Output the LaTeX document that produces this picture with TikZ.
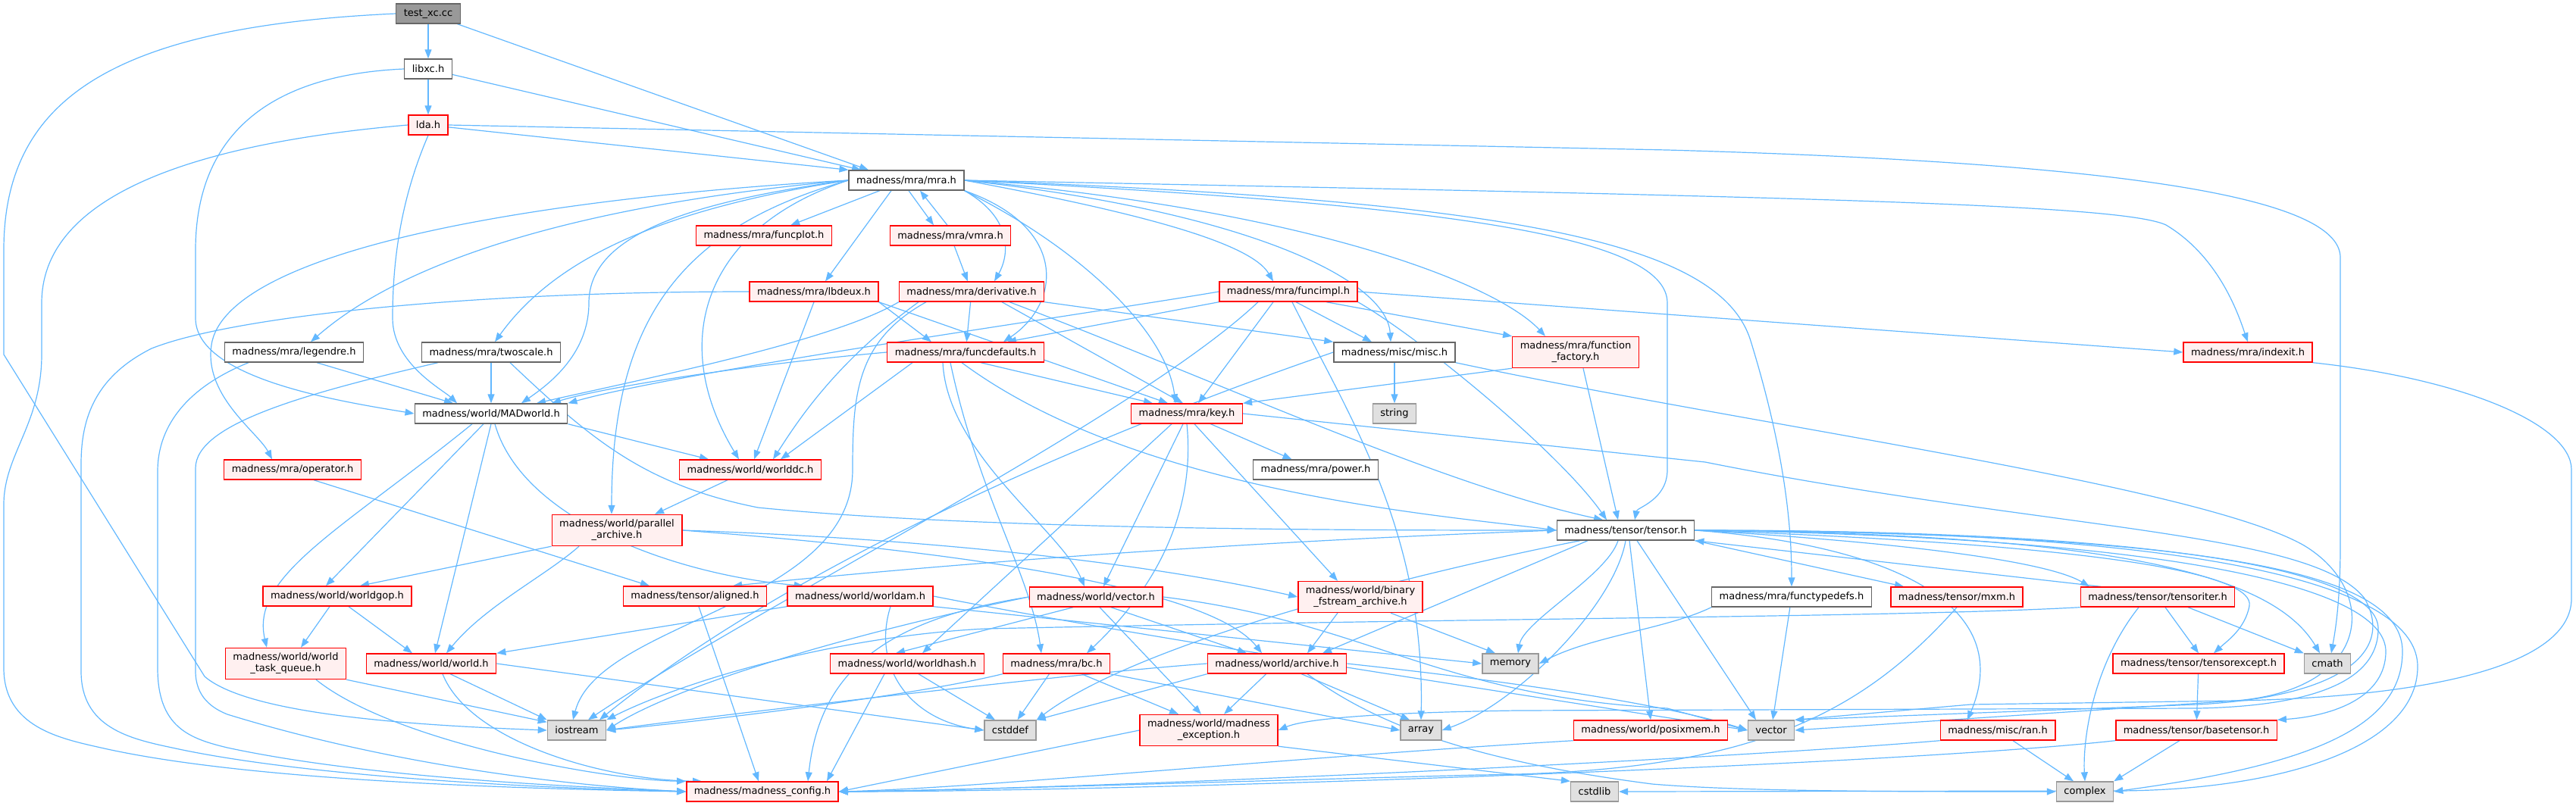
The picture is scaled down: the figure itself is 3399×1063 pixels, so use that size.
\documentclass[tikz,border=0pt]{standalone}
\usepackage{fontspec}
\setmainfont{DejaVu Sans}
\usetikzlibrary{arrows.meta}
\definecolor{ec}{RGB}{99,184,255}
\definecolor{wb}{RGB}{102,102,102}
\definecolor{rb}{RGB}{255,0,0}
\definecolor{rf}{RGB}{255,240,240}
\definecolor{gf}{RGB}{224,224,224}
\definecolor{gb}{RGB}{153,153,153}
\definecolor{tf}{RGB}{153,153,153}
\pgfdeclarelayer{bg}
\pgfsetlayers{bg,main}
\newcommand{\fs}{\fontsize{13}{15}\selectfont}
\tikzset{
  nd/.style={draw, line width=1.4pt, inner xsep=10pt, inner ysep=0pt, minimum height=26pt, font=\fs, align=center, text=black},
  wn/.style={nd, fill=white, draw=wb},
  rn/.style={nd, fill=rf, draw=rb},
  gn/.style={nd, fill=gf, draw=gb},
  tn/.style={nd, fill=tf, draw=wb},
  two/.style={minimum height=41pt},
  ed/.style={draw=ec, line width=1.2pt, -{Triangle[length=12pt,width=9pt]}}
}
\begin{document}
\begin{tikzpicture}[x=1pt,y=-1pt]
\useasboundingbox (0,0) rectangle (3399,1063);
% nodes
\node[tn] (test) at (565,18) {test\_xc.cc};
\node[wn] (libxc) at (565,91) {libxc.h};
\node[rn] (lda) at (565,165) {lda.h};
\node[wn] (mra) at (1196,238) {madness/mra/mra.h};
\node[rn] (funcplot) at (1008,311) {madness/mra/funcplot.h};
\node[rn] (vmra) at (1254,311) {madness/mra/vmra.h};
\node[rn] (lbdeux) at (1074,385) {madness/mra/lbdeux.h};
\node[rn] (derivative) at (1282,385) {madness/mra/derivative.h};
\node[rn] (funcimpl) at (1700,385) {madness/mra/funcimpl.h};
\node[wn] (legendre) at (388,465) {madness/mra/legendre.h};
\node[wn] (twoscale) at (648,465) {madness/mra/twoscale.h};
\node[rn] (funcdefaults) at (1274,465) {madness/mra/funcdefaults.h};
\node[wn] (misc) at (1840,465) {madness/misc/misc.h};
\node[rn,two] (ffactory) at (2079,465) {madness/mra/function\\\_factory.h};
\node[rn] (indexit) at (2966,465) {madness/mra/indexit.h};
\node[wn] (madworld) at (648,546) {madness/world/MADworld.h};
\node[rn] (key) at (1566,546) {madness/mra/key.h};
\node[gn] (string) at (1840,546) {string};
\node[rn] (operator) at (386,620) {madness/mra/operator.h};
\node[rn] (worlddc) at (990,620) {madness/world/worlddc.h};
\node[wn] (power) at (1736,620) {madness/mra/power.h};
\node[rn,two] (parchive) at (814,700) {madness/world/parallel\\\_archive.h};
\node[wn] (tensor) at (2145,700) {madness/tensor/tensor.h};
\node[rn] (worldgop) at (445,787) {madness/world/worldgop.h};
\node[rn] (aligned) at (917,787) {madness/tensor/aligned.h};
\node[rn] (worldam) at (1135,787) {madness/world/worldam.h};
\node[rn] (wvector) at (1446,788) {madness/world/vector.h};
\node[rn,two] (binary) at (1795,788) {madness/world/binary\\\_fstream\_archive.h};
\node[wn] (functypedefs) at (2364,788) {madness/mra/functypedefs.h};
\node[rn] (mxm) at (2582,788) {madness/tensor/mxm.h};
\node[rn] (tensoriter) at (2847,788) {madness/tensor/tensoriter.h};
\node[rn,two] (wtq) at (377,876) {madness/world/world\\\_task\_queue.h};
\node[rn] (world) at (569,876) {madness/world/world.h};
\node[rn] (worldhash) at (1197,876) {madness/world/worldhash.h};
\node[rn] (bc) at (1394,876) {madness/mra/bc.h};
\node[rn] (archive) at (1685,876) {madness/world/archive.h};
\node[gn] (memory) at (1993,876) {memory};
\node[rn] (tensorexcept) at (2901,876) {madness/tensor/tensorexcept.h};
\node[gn] (cmath) at (3071,876) {cmath};
\node[gn] (iostream) at (761,964) {iostream};
\node[gn] (cstddef) at (1333,964) {cstddef};
\node[rn,two] (mexception) at (1595,964) {madness/world/madness\\\_exception.h};
\node[gn] (array) at (1875,964) {array};
\node[rn] (posixmem) at (2178,964) {madness/world/posixmem.h};
\node[gn] (vector) at (2337,964) {vector};
\node[rn] (ran) at (2636,964) {madness/misc/ran.h};
\node[rn] (basetensor) at (2898,964) {madness/tensor/basetensor.h};
\node[rn] (mconfig) at (1006,1045) {madness/madness\_config.h};
\node[gn] (cstdlib) at (2104,1045) {cstdlib};
\node[gn] (complex) at (2751,1045) {complex};
% edges
\begin{pgfonlayer}{bg}
% test
\draw[ed] (test) -- (libxc);
\draw[ed] (test) -- ([xshift=-50pt]mra.north);
\draw[ed] (test.west) .. controls (150,35) and (5,130) .. (5,330) -- (5,468) -- (270,893) .. controls (330,945) and (560,958) .. (iostream.west);
% libxc
\draw[ed] (libxc) -- (lda);
\draw[ed] (libxc) -- ([xshift=-60pt]mra.north);
\draw[ed] (libxc.west) .. controls (330,100) and (258,200) .. (258,330) -- (258,420) .. controls (258,500) and (450,530) .. (madworld.west);
% lda
\draw[ed] (lda) -- (mra.north west);
\draw[ed] (lda.east) -- (2200,198) .. controls (2800,215) and (3088,260) .. (3088,340) -- (3088,720) .. controls (3088,800) and (3080,840) .. ([xshift=5pt]cmath.north);
\draw[ed] (lda.south) .. controls (530,260) and (518,340) .. (518,420) .. controls (518,480) and (585,515) .. ([xshift=-45pt]madworld.north);
\draw[ed] (lda.west) .. controls (250,190) and (55,260) .. (55,400) -- (55,468) .. controls (55,560) and (5,600) .. (5,666) -- (5,882) .. controls (5,960) and (80,975) .. (133,987) .. controls (300,1025) and (600,1040) .. (mconfig.west);
% mra
\draw[ed] (mra) -- (funcplot);
\draw[ed] ([xshift=3pt]mra.south) -- ([xshift=-22pt]vmra.north);
\draw[ed] ([xshift=-4pt]vmra.north) -- ([xshift=18pt]mra.south);
\draw[ed] ([xshift=-20pt]mra.south) -- ([xshift=15pt]lbdeux.north);
\draw[ed] (mra.west) .. controls (850,262) and (560,320) .. ([xshift=22pt]legendre.north);
\draw[ed] (mra.west) .. controls (900,272) and (740,330) .. ([xshift=5pt]twoscale.north);
\draw[ed] (mra.west) .. controls (700,262) and (310,330) .. (280,450) .. controls (265,520) and (340,570) .. ([xshift=-27pt]operator.north);
\draw[ed] (mra.west) .. controls (880,270) and (777,320) .. (777,400) .. controls (777,470) and (720,510) .. ([xshift=40pt]madworld.north);
\draw[ed] (mra.west) .. controls (900,300) and (807,420) .. ([xshift=-7pt]parchive.north);
\draw[ed] (mra.west) .. controls (930,300) and (880,450) .. ([xshift=-15pt]worlddc.north);
\draw[ed] (mra.south east) .. controls (1340,290) and (1330,340) .. ([xshift=30pt]derivative.north);
\draw[ed] (mra.south east) .. controls (1410,300) and (1400,400) .. ([xshift=50pt]funcdefaults.north);
\draw[ed] (mra.south east) .. controls (1430,330) and (1540,440) .. ([xshift=-15pt]key.north);
\draw[ed] (mra.east) .. controls (1500,280) and (1650,320) .. ([xshift=-20pt]funcimpl.north);
\draw[ed] (mra.east) .. controls (1650,280) and (1830,370) .. ([xshift=-5pt]misc.north);
\draw[ed] (mra.east) .. controls (1750,280) and (1980,380) .. ([xshift=-40pt]ffactory.north);
\draw[ed] (mra.east) .. controls (1900,270) and (2200,310) .. (2200,400) -- (2200,620) .. controls (2200,660) and (2160,670) .. ([xshift=12pt]tensor.north);
\draw[ed] (mra.east) .. controls (2000,265) and (2270,320) .. (2310,450) .. controls (2350,580) and (2364,680) .. (functypedefs.north);
\draw[ed] (mra.east) .. controls (2400,260) and (2800,270) .. (2858,297) .. controls (2930,340) and (2955,420) .. (indexit.north);
% vmra
\draw[ed] (vmra) -- (derivative);
% lbdeux
\draw[ed] (lbdeux.west) .. controls (600,385) and (300,420) .. (200,460) .. controls (120,500) and (107,560) .. (107,613) -- (107,886) .. controls (107,960) and (170,975) .. (227,987) .. controls (400,1025) and (700,1040) .. (mconfig.west);
\draw[ed] (lbdeux.south) -- ([xshift=5pt]worlddc.north);
\draw[ed] (lbdeux.south east) -- ([xshift=-45pt]funcdefaults.north);
\draw[ed] (lbdeux.south east) -- ([xshift=-25pt]key.north);
% derivative
\draw[ed] (derivative) -- (funcdefaults);
\draw[ed] (derivative.south west) .. controls (1100,450) and (850,500) .. ([xshift=60pt]madworld.north);
\draw[ed] ([xshift=-70pt]derivative.south) .. controls (1100,480) and (1050,560) .. ([xshift=30pt]worlddc.north);
\draw[ed] ([xshift=40pt]derivative.south) -- ([xshift=-5pt]key.north);
\draw[ed] (derivative.south east) -- (misc.north west);
\draw[ed] ([xshift=50pt]derivative.south) .. controls (1600,500) and (1900,640) .. ([xshift=-30pt]tensor.north);
\draw[ed] ([xshift=-60pt]derivative.south) .. controls (1130,450) and (1125,520) .. (1125,620) .. controls (1125,800) and (790,820) .. ([xshift=-5pt]iostream.north);
% funcimpl
\draw[ed] (funcimpl.south west) -- ([xshift=55pt]funcdefaults.north);
\draw[ed] (funcimpl.west) .. controls (1400,420) and (900,490) .. (madworld.north east);
\draw[ed] ([xshift=-20pt]funcimpl.south) -- ([xshift=15pt]key.north);
\draw[ed] ([xshift=10pt]funcimpl.south) -- ([xshift=-30pt]misc.north);
\draw[ed] ([xshift=50pt]funcimpl.south) -- (ffactory.north west);
\draw[ed] (funcimpl.east) -- (indexit.west);
\draw[ed] (funcimpl.south east) .. controls (1880,450) and (2060,600) .. ([xshift=-25pt]tensor.north);
\draw[ed] ([xshift=5pt]funcimpl.south) .. controls (1780,550) and (1880,700) .. (array.north);
\draw[ed] ([xshift=-40pt]funcimpl.south) .. controls (1500,550) and (1000,800) .. ([xshift=15pt]iostream.north);
% funcdefaults
\draw[ed] (funcdefaults.west) .. controls (1000,480) and (800,510) .. ([xshift=80pt]madworld.north);
\draw[ed] ([xshift=-70pt]funcdefaults.south) -- ([xshift=40pt]worlddc.north);
\draw[ed] ([xshift=20pt]funcdefaults.south) -- ([xshift=-45pt]key.north);
\draw[ed] ([xshift=-5pt]funcdefaults.south) .. controls (1500,650) and (1900,680) .. (tensor.west);
\draw[ed] ([xshift=-30pt]funcdefaults.south) .. controls (1250,600) and (1400,700) .. ([xshift=-15pt]wvector.north);
\draw[ed] ([xshift=-20pt]funcdefaults.south) .. controls (1290,650) and (1360,760) .. ([xshift=-20pt]bc.north);
% misc
\draw[ed] (misc) -- (string);
\draw[ed] (misc.west) .. controls (1600,520) and (1100,700) .. ([xshift=30pt]iostream.north);
\draw[ed] (misc.south east) .. controls (2300,560) and (2900,640) .. (3040,720) .. controls (3140,780) and (3130,910) .. (2950,925) -- (vector.east);
% function factory
\draw[ed] (ffactory.south west) -- (key.north east);
\draw[ed] ([xshift=10pt]ffactory.south) -- ([xshift=-10pt]tensor.north);
% key
\draw[ed] (key) -- (power);
\draw[ed] ([xshift=-20pt]key.south) -- ([xshift=20pt]worldhash.north);
\draw[ed] ([xshift=-5pt]key.south) -- ([xshift=10pt]wvector.north);
\draw[ed] (key.south) .. controls (1580,700) and (1500,800) .. ([xshift=40pt]bc.north);
\draw[ed] ([xshift=10pt]key.south) -- ([xshift=-30pt]binary.north);
\draw[ed] (key.east) -- (2250,610) .. controls (2700,700) and (3050,700) .. (3120,790) .. controls (3160,860) and (3090,920) .. (2900,930) -- (vector.north east);
% world/vector
\draw[ed] ([xshift=-30pt]wvector.south) -- ([xshift=-15pt]worldhash.north);
\draw[ed] ([xshift=20pt]wvector.south) -- ([xshift=-40pt]archive.north);
\draw[ed] ([xshift=5pt]wvector.south) -- ([xshift=-10pt]mexception.north);
\draw[ed] (wvector.west) .. controls (1150,830) and (900,900) .. (iostream.east);
\draw[ed] (wvector.west) .. controls (1150,820) and (1080,900) .. ([xshift=60pt]mconfig.north);
\draw[ed] (wvector.east) .. controls (1800,820) and (1900,920) .. (2200,935) -- (vector.west);
% binary
\draw[ed] ([xshift=-30pt]binary.south) -- ([xshift=40pt]archive.north);
\draw[ed] ([xshift=40pt]binary.south) -- ([xshift=-20pt]memory.north);
% parallel archive
\draw[ed] (parchive.south west) -- ([xshift=30pt]worldgop.north);
\draw[ed] ([xshift=-50pt]parchive.south) .. controls (720,760) and (640,800) .. ([xshift=20pt]world.north);
\draw[ed] (parchive.east) .. controls (1200,710) and (1500,740) .. (binary.west);
\draw[ed] (parchive.east) .. controls (1300,730) and (1600,780) .. ([xshift=-20pt]archive.north);
% worlddc
\draw[ed] ([xshift=-30pt]worlddc.south) -- ([xshift=50pt]parchive.north);
% MADworld
\draw[ed] (madworld.south east) -- ([xshift=-55pt]worlddc.north);
\draw[ed] ([xshift=-25pt]madworld.south) .. controls (450,700) and (330,760) .. ([xshift=-25pt]wtq.north);
\draw[ed] ([xshift=-10pt]madworld.south) -- ([xshift=-15pt]worldgop.north);
\draw[ed] (madworld.south) -- ([xshift=5pt]world.north);
\draw[ed] ([xshift=5pt]madworld.south) .. controls (690,690) and (900,760) .. ([xshift=-75pt]worldam.north);
% legendre
\draw[ed] ([xshift=30pt]legendre.south) -- ([xshift=-50pt]madworld.north);
\draw[ed] ([xshift=-60pt]legendre.south) .. controls (250,510) and (208,560) .. (208,622) -- (208,882) .. controls (208,960) and (250,975) .. (300,987) .. controls (500,1030) and (800,1040) .. (mconfig.west);
% twoscale
\draw[ed] (twoscale) -- (madworld);
\draw[ed] ([xshift=-70pt]twoscale.south) .. controls (400,520) and (258,560) .. (258,618) -- (258,886) .. controls (258,920) and (280,935) .. (300,943) .. controls (550,1020) and (800,1040) .. (mconfig.west);
\draw[ed] ([xshift=25pt]twoscale.south) .. controls (780,580) and (850,640) .. (1000,670) .. controls (1300,700) and (1800,700) .. (tensor.west);
% operator
\draw[ed] ([xshift=28pt]operator.south) -- ([xshift=-60pt]aligned.north);
% worldgop
\draw[ed] ([xshift=-10pt]worldgop.south) -- ([xshift=20pt]wtq.north);
\draw[ed] ([xshift=15pt]worldgop.south) -- ([xshift=-25pt]world.north);
% wtq
\draw[ed] (wtq.south east) -- ([yshift=-3pt]iostream.north west);
\draw[ed] ([xshift=40pt]wtq.south) .. controls (520,980) and (800,1030) .. (mconfig.north west);
% world
\draw[ed] ([xshift=25pt]world.south) -- (iostream.north west);
\draw[ed] ([xshift=15pt]world.south) .. controls (620,980) and (800,1030) .. ([xshift=-80pt]mconfig.north);
\draw[ed] (world.east) -- (cstddef.west);
% worldam
\draw[ed] (worldam.south west) -- (world.north east);
\draw[ed] (worldam.south east) -- (memory.west);
\draw[ed] ([xshift=40pt]worldam.south) .. controls (1150,880) and (1200,950) .. (cstddef.west);
\draw[ed] (worldam.east) .. controls (1500,840) and (1900,900) .. (vector.west);
% aligned
\draw[ed] ([xshift=5pt]aligned.south) -- ([xshift=-5pt]mconfig.north);
% worldhash
\draw[ed] ([xshift=15pt]worldhash.south) -- ([xshift=-20pt]cstddef.north);
\draw[ed] ([xshift=-30pt]worldhash.south) -- ([xshift=85pt]mconfig.north);
% bc
\draw[ed] (bc) -- (cstddef);
\draw[ed] (bc.south west) .. controls (1200,920) and (900,955) .. (iostream.east);
\draw[ed] (bc) -- ([xshift=-40pt]mexception.north);
\draw[ed] (bc.south east) -- (array.west);
% archive
\draw[ed] (archive.south west) -- (cstddef.north east);
\draw[ed] (archive) -- ([xshift=20pt]mexception.north);
\draw[ed] (archive) -- ([xshift=-15pt]array.north);
\draw[ed] (archive.west) .. controls (1400,890) and (900,950) .. (iostream.east);
\draw[ed] ([xshift=40pt]archive.south) .. controls (1820,960) and (1950,1005) .. (2180,1035) .. controls (2300,1045) and (2500,1045) .. (complex.west);
\draw[ed] (archive.east) .. controls (2000,900) and (2200,930) .. (vector.west);
% madness exception
\draw[ed] (mexception.west) -- (mconfig.east);
\draw[ed] (mexception.south east) -- (cstdlib.north west);
% posixmem
\draw[ed] (posixmem.south west) .. controls (1700,1000) and (1300,1040) .. (mconfig.east);
% functypedefs
\draw[ed] (functypedefs.south west) .. controls (2200,830) and (2100,840) .. (memory.east);
\draw[ed] (functypedefs) -- (vector);
% mxm
\draw[ed] (mxm.south) .. controls (2450,950) and (2300,1020) .. (1950,1023) .. controls (1500,1035) and (1200,1045) .. (mconfig.east);
% ran
\draw[ed] ([xshift=20pt]ran.south) -- ([xshift=-15pt]complex.north);
\draw[ed] (ran.south west) .. controls (2300,1000) and (1500,1040) .. (mconfig.east);
% basetensor
\draw[ed] (basetensor) -- (complex.north east);
\draw[ed] (basetensor.south west) .. controls (2500,1010) and (1500,1045) .. (mconfig.east);
% tensorexcept
\draw[ed] (tensorexcept) -- (basetensor);
% tensoriter
\draw[ed] ([xshift=-75pt]tensoriter.north) -- (tensor.south east);
\draw[ed] ([xshift=10pt]tensoriter.south) -- (tensorexcept.north);
\draw[ed] ([xshift=40pt]tensoriter.south) -- (cmath.north west);
\draw[ed] ([xshift=-25pt]tensoriter.south) .. controls (2760,880) and (2748,980) .. (complex.north);
\draw[ed] (tensoriter.south west) .. controls (2500,815) and (2000,815) .. (1300,830) .. controls (1100,840) and (900,900) .. (iostream.north east);
% tensor
\draw[ed] (tensor.west) .. controls (1500,720) and (1100,760) .. ([xshift=50pt]aligned.north);
\draw[ed] ([xshift=-50pt]tensor.south) -- ([xshift=60pt]archive.north);
\draw[ed] ([xshift=-60pt]tensor.south) .. controls (1850,760) and (1500,850) .. (cstddef.north east);
\draw[ed] ([xshift=-10pt]tensor.south) .. controls (2120,760) and (2010,820) .. ([xshift=10pt]memory.north);
\draw[ed] (tensor.south) .. controls (2130,800) and (2000,930) .. (array.east);
\draw[ed] ([xshift=5pt]tensor.south) -- (posixmem.north);
\draw[ed] ([xshift=15pt]tensor.south) -- ([xshift=-20pt]vector.north);
\draw[ed] (tensor.south east) -- ([xshift=-70pt]mxm.north);
\draw[ed] (tensor.east) .. controls (2500,715) and (2700,740) .. ([xshift=-90pt]tensoriter.north);
\draw[ed] (tensor.east) .. controls (2800,720) and (2975,760) .. (2968,800) .. controls (2962,830) and (2940,845) .. ([xshift=20pt]tensorexcept.north);
\draw[ed] (tensor.east) .. controls (2800,705) and (3000,760) .. ([xshift=-10pt]cmath.north);
\draw[ed] (tensor.east) .. controls (2500,720) and (2660,800) .. ([xshift=-40pt]ran.north);
\draw[ed] (tensor.east) .. controls (2900,710) and (3148,780) .. (3148,860) .. controls (3148,920) and (3080,945) .. (basetensor.north east);
\draw[ed] (tensor.east) .. controls (2950,705) and (3170,760) .. (3170,860) .. controls (3170,960) and (3050,1010) .. (complex.east);
\draw[ed] (tensor.east) .. controls (2900,700) and (3138,760) .. (3138,830) .. controls (3138,900) and (3050,932) .. (2900,935) -- (2000,938) .. controls (1800,941) and (1720,950) .. (mexception.east);
\draw[ed] (tensor.east) .. controls (2950,700) and (3190,780) .. (3190,880) .. controls (3190,990) and (3000,1044) .. (2790,1044) -- (cstdlib.east);
% indexit
\draw[ed] (indexit.south east) .. controls (3250,500) and (3393,560) .. (3393,620) -- (3393,790) .. controls (3393,880) and (3200,920) .. (2950,925) -- (2600,930) -- (vector.north east);
\end{pgfonlayer}
\end{tikzpicture}
\end{document}
